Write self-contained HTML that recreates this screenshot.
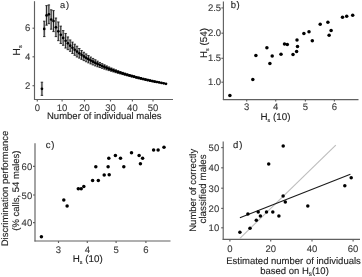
<!DOCTYPE html>
<html><head><meta charset="utf-8"><style>
html,body{margin:0;padding:0;background:#fff;}
svg{display:block;will-change:transform;filter:blur(0.3px);}
text{font-family:"Liberation Sans",sans-serif;text-rendering:geometricPrecision;}
</style></head><body>
<svg width="362" height="277" viewBox="0 0 362 277">
<rect width="362" height="277" fill="#fff"/>
<line x1="34.50" y1="1.20" x2="34.50" y2="100.00" stroke="#606060" stroke-width="1.15"/>
<line x1="34.00" y1="99.50" x2="173.00" y2="99.50" stroke="#606060" stroke-width="1.15"/>
<line x1="37.30" y1="99.50" x2="37.30" y2="101.50" stroke="#606060" stroke-width="1.15"/>
<text transform="translate(37.30,110.50) scale(1,1.0)" font-size="9.5" text-anchor="middle" fill="#3a3a3a" stroke="#3a3a3a" stroke-width="0.12">0</text>
<line x1="62.10" y1="99.50" x2="62.10" y2="101.50" stroke="#606060" stroke-width="1.15"/>
<text transform="translate(62.10,110.50) scale(1,1.0)" font-size="9.5" text-anchor="middle" fill="#3a3a3a" stroke="#3a3a3a" stroke-width="0.12">10</text>
<line x1="84.50" y1="99.50" x2="84.50" y2="101.50" stroke="#606060" stroke-width="1.15"/>
<text transform="translate(84.50,110.50) scale(1,1.0)" font-size="9.5" text-anchor="middle" fill="#3a3a3a" stroke="#3a3a3a" stroke-width="0.12">20</text>
<line x1="110.50" y1="99.50" x2="110.50" y2="101.50" stroke="#606060" stroke-width="1.15"/>
<text transform="translate(110.50,110.50) scale(1,1.0)" font-size="9.5" text-anchor="middle" fill="#3a3a3a" stroke="#3a3a3a" stroke-width="0.12">30</text>
<line x1="132.40" y1="99.50" x2="132.40" y2="101.50" stroke="#606060" stroke-width="1.15"/>
<text transform="translate(132.40,110.50) scale(1,1.0)" font-size="9.5" text-anchor="middle" fill="#3a3a3a" stroke="#3a3a3a" stroke-width="0.12">40</text>
<line x1="153.00" y1="99.50" x2="153.00" y2="101.50" stroke="#606060" stroke-width="1.15"/>
<text transform="translate(153.00,110.50) scale(1,1.0)" font-size="9.5" text-anchor="middle" fill="#3a3a3a" stroke="#3a3a3a" stroke-width="0.12">50</text>
<line x1="32.50" y1="28.20" x2="34.50" y2="28.20" stroke="#606060" stroke-width="1.15"/>
<text transform="translate(30.20,31.30) scale(1,1.0)" font-size="9.5" text-anchor="end" fill="#3a3a3a" stroke="#3a3a3a" stroke-width="0.12">6</text>
<line x1="32.50" y1="56.80" x2="34.50" y2="56.80" stroke="#606060" stroke-width="1.15"/>
<text transform="translate(30.20,59.90) scale(1,1.0)" font-size="9.5" text-anchor="end" fill="#3a3a3a" stroke="#3a3a3a" stroke-width="0.12">4</text>
<line x1="32.50" y1="85.70" x2="34.50" y2="85.70" stroke="#606060" stroke-width="1.15"/>
<text transform="translate(30.20,88.80) scale(1,1.0)" font-size="9.5" text-anchor="end" fill="#3a3a3a" stroke="#3a3a3a" stroke-width="0.12">2</text>
<text transform="translate(60.00,8.00) scale(1,1.0)" font-size="9.3" text-anchor="start" fill="#222222" stroke="#222222" stroke-width="0.12">a<tspan dx="0.8">)</tspan></text>
<text transform="translate(104.30,119.30) scale(1,1.001)" font-size="9.5" text-anchor="middle" fill="#222222" stroke="#222222" stroke-width="0.12">Number of individual males</text>
<text transform="translate(20.20,50.30) rotate(-90) scale(1,1.001)" font-size="10.2" text-anchor="middle" fill="#222222" stroke="#222222" stroke-width="0.12">H<tspan font-size="5.6" dy="1.6">s</tspan><tspan dy="-1.6"></tspan></text>
<rect x="40.73" y="82.20" width="2.40" height="13.20" fill="#c8c8c8"/>
<rect x="43.04" y="21.20" width="2.40" height="15.40" fill="#c8c8c8"/>
<rect x="45.36" y="5.60" width="2.40" height="19.60" fill="#c8c8c8"/>
<rect x="47.67" y="4.90" width="2.40" height="18.80" fill="#c8c8c8"/>
<rect x="49.98" y="9.80" width="2.40" height="19.40" fill="#c8c8c8"/>
<rect x="52.30" y="10.60" width="2.40" height="21.00" fill="#c8c8c8"/>
<rect x="54.72" y="18.01" width="2.40" height="18.61" fill="#c8c8c8"/>
<rect x="57.14" y="21.96" width="2.40" height="18.70" fill="#c8c8c8"/>
<rect x="59.56" y="26.12" width="2.40" height="17.40" fill="#c8c8c8"/>
<rect x="61.98" y="30.58" width="2.40" height="14.73" fill="#c8c8c8"/>
<rect x="64.40" y="33.46" width="2.40" height="14.60" fill="#c8c8c8"/>
<rect x="66.68" y="36.95" width="2.40" height="12.71" fill="#c8c8c8"/>
<rect x="68.96" y="39.94" width="2.40" height="11.40" fill="#c8c8c8"/>
<rect x="71.25" y="42.08" width="2.40" height="11.40" fill="#c8c8c8"/>
<rect x="73.53" y="44.20" width="2.40" height="11.12" fill="#c8c8c8"/>
<rect x="75.81" y="46.19" width="2.40" height="10.82" fill="#c8c8c8"/>
<rect x="78.09" y="48.51" width="2.40" height="9.61" fill="#c8c8c8"/>
<rect x="80.37" y="50.50" width="2.40" height="8.85" fill="#c8c8c8"/>
<rect x="82.65" y="52.26" width="2.40" height="8.35" fill="#c8c8c8"/>
<rect x="84.94" y="53.93" width="2.40" height="7.85" fill="#c8c8c8"/>
<rect x="87.22" y="55.53" width="2.40" height="7.35" fill="#c8c8c8"/>
<rect x="89.50" y="57.04" width="2.40" height="6.89" fill="#c8c8c8"/>
<rect x="91.78" y="58.43" width="2.40" height="6.53" fill="#c8c8c8"/>
<rect x="94.06" y="59.76" width="2.40" height="6.16" fill="#c8c8c8"/>
<rect x="96.35" y="61.11" width="2.40" height="5.66" fill="#c8c8c8"/>
<rect x="98.63" y="62.47" width="2.40" height="5.05" fill="#c8c8c8"/>
<rect x="100.91" y="63.66" width="2.40" height="4.68" fill="#c8c8c8"/>
<rect x="103.19" y="64.79" width="2.40" height="4.34" fill="#c8c8c8"/>
<rect x="105.47" y="65.88" width="2.40" height="4.00" fill="#c8c8c8"/>
<rect x="107.75" y="66.94" width="2.40" height="3.66" fill="#c8c8c8"/>
<rect x="110.04" y="67.97" width="2.40" height="3.31" fill="#c8c8c8"/>
<rect x="112.32" y="68.92" width="2.40" height="3.06" fill="#c8c8c8"/>
<rect x="114.60" y="69.81" width="2.40" height="2.85" fill="#c8c8c8"/>
<rect x="116.88" y="70.68" width="2.40" height="2.64" fill="#c8c8c8"/>
<rect x="119.16" y="71.53" width="2.40" height="2.43" fill="#c8c8c8"/>
<rect x="121.45" y="72.35" width="2.40" height="2.22" fill="#c8c8c8"/>
<rect x="123.73" y="73.15" width="2.40" height="2.01" fill="#c8c8c8"/>
<rect x="126.01" y="73.85" width="2.40" height="1.95" fill="#c8c8c8"/>
<rect x="128.29" y="74.52" width="2.40" height="1.89" fill="#c8c8c8"/>
<rect x="130.57" y="75.18" width="2.40" height="1.83" fill="#c8c8c8"/>
<rect x="132.85" y="75.82" width="2.40" height="1.78" fill="#c8c8c8"/>
<rect x="135.14" y="76.44" width="2.40" height="1.72" fill="#c8c8c8"/>
<rect x="137.42" y="77.05" width="2.40" height="1.67" fill="#c8c8c8"/>
<rect x="139.70" y="77.64" width="2.40" height="1.61" fill="#c8c8c8"/>
<rect x="141.98" y="78.22" width="2.40" height="1.56" fill="#c8c8c8"/>
<rect x="144.26" y="78.78" width="2.40" height="1.50" fill="#c8c8c8"/>
<rect x="146.55" y="79.32" width="2.40" height="1.45" fill="#c8c8c8"/>
<rect x="148.83" y="79.86" width="2.40" height="1.39" fill="#c8c8c8"/>
<rect x="151.11" y="80.38" width="2.40" height="1.33" fill="#c8c8c8"/>
<rect x="153.39" y="80.89" width="2.40" height="1.28" fill="#c8c8c8"/>
<rect x="155.67" y="81.39" width="2.40" height="1.22" fill="#c8c8c8"/>
<line x1="41.93" y1="82.20" x2="41.93" y2="95.40" stroke="#111" stroke-width="0.9"/>
<line x1="40.73" y1="82.20" x2="43.13" y2="82.20" stroke="#111" stroke-width="0.8"/>
<line x1="40.73" y1="95.40" x2="43.13" y2="95.40" stroke="#111" stroke-width="0.8"/>
<circle cx="41.93" cy="88.80" r="1.35" fill="#000"/>
<line x1="44.24" y1="21.20" x2="44.24" y2="36.60" stroke="#111" stroke-width="0.9"/>
<line x1="43.04" y1="21.20" x2="45.44" y2="21.20" stroke="#111" stroke-width="0.8"/>
<line x1="43.04" y1="36.60" x2="45.44" y2="36.60" stroke="#111" stroke-width="0.8"/>
<circle cx="44.24" cy="28.90" r="1.35" fill="#000"/>
<line x1="46.56" y1="5.60" x2="46.56" y2="25.20" stroke="#111" stroke-width="0.9"/>
<line x1="45.36" y1="5.60" x2="47.76" y2="5.60" stroke="#111" stroke-width="0.8"/>
<line x1="45.36" y1="25.20" x2="47.76" y2="25.20" stroke="#111" stroke-width="0.8"/>
<circle cx="46.56" cy="15.40" r="1.35" fill="#000"/>
<line x1="48.87" y1="4.90" x2="48.87" y2="23.70" stroke="#111" stroke-width="0.9"/>
<line x1="47.67" y1="4.90" x2="50.07" y2="4.90" stroke="#111" stroke-width="0.8"/>
<line x1="47.67" y1="23.70" x2="50.07" y2="23.70" stroke="#111" stroke-width="0.8"/>
<circle cx="48.87" cy="14.30" r="1.35" fill="#000"/>
<line x1="51.18" y1="9.80" x2="51.18" y2="29.20" stroke="#111" stroke-width="0.9"/>
<line x1="49.98" y1="9.80" x2="52.38" y2="9.80" stroke="#111" stroke-width="0.8"/>
<line x1="49.98" y1="29.20" x2="52.38" y2="29.20" stroke="#111" stroke-width="0.8"/>
<circle cx="51.18" cy="19.50" r="1.35" fill="#000"/>
<line x1="53.50" y1="10.60" x2="53.50" y2="31.60" stroke="#111" stroke-width="0.9"/>
<line x1="52.30" y1="10.60" x2="54.70" y2="10.60" stroke="#111" stroke-width="0.8"/>
<line x1="52.30" y1="31.60" x2="54.70" y2="31.60" stroke="#111" stroke-width="0.8"/>
<circle cx="53.50" cy="21.10" r="1.35" fill="#000"/>
<line x1="55.92" y1="18.01" x2="55.92" y2="36.62" stroke="#111" stroke-width="0.9"/>
<line x1="54.72" y1="18.01" x2="57.12" y2="18.01" stroke="#111" stroke-width="0.8"/>
<line x1="54.72" y1="36.62" x2="57.12" y2="36.62" stroke="#111" stroke-width="0.8"/>
<circle cx="55.92" cy="27.31" r="1.35" fill="#000"/>
<line x1="58.34" y1="21.96" x2="58.34" y2="40.66" stroke="#111" stroke-width="0.9"/>
<line x1="57.14" y1="21.96" x2="59.54" y2="21.96" stroke="#111" stroke-width="0.8"/>
<line x1="57.14" y1="40.66" x2="59.54" y2="40.66" stroke="#111" stroke-width="0.8"/>
<circle cx="58.34" cy="31.31" r="1.35" fill="#000"/>
<line x1="60.76" y1="26.12" x2="60.76" y2="43.52" stroke="#111" stroke-width="0.9"/>
<line x1="59.56" y1="26.12" x2="61.96" y2="26.12" stroke="#111" stroke-width="0.8"/>
<line x1="59.56" y1="43.52" x2="61.96" y2="43.52" stroke="#111" stroke-width="0.8"/>
<circle cx="60.76" cy="34.82" r="1.35" fill="#000"/>
<line x1="63.18" y1="30.58" x2="63.18" y2="45.31" stroke="#111" stroke-width="0.9"/>
<line x1="61.98" y1="30.58" x2="64.38" y2="30.58" stroke="#111" stroke-width="0.8"/>
<line x1="61.98" y1="45.31" x2="64.38" y2="45.31" stroke="#111" stroke-width="0.8"/>
<circle cx="63.18" cy="37.95" r="1.35" fill="#000"/>
<line x1="65.60" y1="33.46" x2="65.60" y2="48.06" stroke="#111" stroke-width="0.9"/>
<line x1="64.40" y1="33.46" x2="66.80" y2="33.46" stroke="#111" stroke-width="0.8"/>
<line x1="64.40" y1="48.06" x2="66.80" y2="48.06" stroke="#111" stroke-width="0.8"/>
<circle cx="65.60" cy="40.76" r="1.35" fill="#000"/>
<line x1="67.88" y1="36.95" x2="67.88" y2="49.66" stroke="#111" stroke-width="0.9"/>
<line x1="66.68" y1="36.95" x2="69.08" y2="36.95" stroke="#111" stroke-width="0.8"/>
<line x1="66.68" y1="49.66" x2="69.08" y2="49.66" stroke="#111" stroke-width="0.8"/>
<circle cx="67.88" cy="43.31" r="1.35" fill="#000"/>
<line x1="70.16" y1="39.94" x2="70.16" y2="51.34" stroke="#111" stroke-width="0.9"/>
<line x1="68.96" y1="39.94" x2="71.36" y2="39.94" stroke="#111" stroke-width="0.8"/>
<line x1="68.96" y1="51.34" x2="71.36" y2="51.34" stroke="#111" stroke-width="0.8"/>
<circle cx="70.16" cy="45.64" r="1.35" fill="#000"/>
<line x1="72.45" y1="42.08" x2="72.45" y2="53.48" stroke="#111" stroke-width="0.9"/>
<line x1="71.25" y1="42.08" x2="73.65" y2="42.08" stroke="#111" stroke-width="0.8"/>
<line x1="71.25" y1="53.48" x2="73.65" y2="53.48" stroke="#111" stroke-width="0.8"/>
<circle cx="72.45" cy="47.78" r="1.35" fill="#000"/>
<line x1="74.73" y1="44.20" x2="74.73" y2="55.32" stroke="#111" stroke-width="0.9"/>
<line x1="73.53" y1="44.20" x2="75.93" y2="44.20" stroke="#111" stroke-width="0.8"/>
<line x1="73.53" y1="55.32" x2="75.93" y2="55.32" stroke="#111" stroke-width="0.8"/>
<circle cx="74.73" cy="49.76" r="1.35" fill="#000"/>
<line x1="77.01" y1="46.19" x2="77.01" y2="57.01" stroke="#111" stroke-width="0.9"/>
<line x1="75.81" y1="46.19" x2="78.21" y2="46.19" stroke="#111" stroke-width="0.8"/>
<line x1="75.81" y1="57.01" x2="78.21" y2="57.01" stroke="#111" stroke-width="0.8"/>
<circle cx="77.01" cy="51.60" r="1.35" fill="#000"/>
<line x1="79.29" y1="48.51" x2="79.29" y2="58.12" stroke="#111" stroke-width="0.9"/>
<line x1="78.09" y1="48.51" x2="80.49" y2="48.51" stroke="#111" stroke-width="0.8"/>
<line x1="78.09" y1="58.12" x2="80.49" y2="58.12" stroke="#111" stroke-width="0.8"/>
<circle cx="79.29" cy="53.32" r="1.35" fill="#000"/>
<line x1="81.57" y1="50.50" x2="81.57" y2="59.35" stroke="#111" stroke-width="0.9"/>
<line x1="80.37" y1="50.50" x2="82.77" y2="50.50" stroke="#111" stroke-width="0.8"/>
<line x1="80.37" y1="59.35" x2="82.77" y2="59.35" stroke="#111" stroke-width="0.8"/>
<circle cx="81.57" cy="54.92" r="1.35" fill="#000"/>
<line x1="83.85" y1="52.26" x2="83.85" y2="60.61" stroke="#111" stroke-width="0.9"/>
<line x1="82.65" y1="52.26" x2="85.05" y2="52.26" stroke="#111" stroke-width="0.8"/>
<line x1="82.65" y1="60.61" x2="85.05" y2="60.61" stroke="#111" stroke-width="0.8"/>
<circle cx="83.85" cy="56.44" r="1.35" fill="#000"/>
<line x1="86.14" y1="53.93" x2="86.14" y2="61.78" stroke="#111" stroke-width="0.9"/>
<line x1="84.94" y1="53.93" x2="87.34" y2="53.93" stroke="#111" stroke-width="0.8"/>
<line x1="84.94" y1="61.78" x2="87.34" y2="61.78" stroke="#111" stroke-width="0.8"/>
<circle cx="86.14" cy="57.86" r="1.35" fill="#000"/>
<line x1="88.42" y1="55.53" x2="88.42" y2="62.88" stroke="#111" stroke-width="0.9"/>
<line x1="87.22" y1="55.53" x2="89.62" y2="55.53" stroke="#111" stroke-width="0.8"/>
<line x1="87.22" y1="62.88" x2="89.62" y2="62.88" stroke="#111" stroke-width="0.8"/>
<circle cx="88.42" cy="59.21" r="1.35" fill="#000"/>
<line x1="90.70" y1="57.04" x2="90.70" y2="63.93" stroke="#111" stroke-width="0.9"/>
<line x1="89.50" y1="57.04" x2="91.90" y2="57.04" stroke="#111" stroke-width="0.8"/>
<line x1="89.50" y1="63.93" x2="91.90" y2="63.93" stroke="#111" stroke-width="0.8"/>
<circle cx="90.70" cy="60.48" r="1.35" fill="#000"/>
<line x1="92.98" y1="58.43" x2="92.98" y2="64.96" stroke="#111" stroke-width="0.9"/>
<line x1="91.78" y1="58.43" x2="94.18" y2="58.43" stroke="#111" stroke-width="0.8"/>
<line x1="91.78" y1="64.96" x2="94.18" y2="64.96" stroke="#111" stroke-width="0.8"/>
<circle cx="92.98" cy="61.69" r="1.35" fill="#000"/>
<line x1="95.26" y1="59.76" x2="95.26" y2="65.93" stroke="#111" stroke-width="0.9"/>
<line x1="94.06" y1="59.76" x2="96.46" y2="59.76" stroke="#111" stroke-width="0.8"/>
<line x1="94.06" y1="65.93" x2="96.46" y2="65.93" stroke="#111" stroke-width="0.8"/>
<circle cx="95.26" cy="62.84" r="1.35" fill="#000"/>
<line x1="97.55" y1="61.11" x2="97.55" y2="66.77" stroke="#111" stroke-width="0.9"/>
<line x1="96.35" y1="61.11" x2="98.75" y2="61.11" stroke="#111" stroke-width="0.8"/>
<line x1="96.35" y1="66.77" x2="98.75" y2="66.77" stroke="#111" stroke-width="0.8"/>
<circle cx="97.55" cy="63.94" r="1.35" fill="#000"/>
<line x1="99.83" y1="62.47" x2="99.83" y2="67.52" stroke="#111" stroke-width="0.9"/>
<line x1="98.63" y1="62.47" x2="101.03" y2="62.47" stroke="#111" stroke-width="0.8"/>
<line x1="98.63" y1="67.52" x2="101.03" y2="67.52" stroke="#111" stroke-width="0.8"/>
<circle cx="99.83" cy="64.99" r="1.35" fill="#000"/>
<line x1="102.11" y1="63.66" x2="102.11" y2="68.34" stroke="#111" stroke-width="0.9"/>
<line x1="100.91" y1="63.66" x2="103.31" y2="63.66" stroke="#111" stroke-width="0.8"/>
<line x1="100.91" y1="68.34" x2="103.31" y2="68.34" stroke="#111" stroke-width="0.8"/>
<circle cx="102.11" cy="66.00" r="1.35" fill="#000"/>
<line x1="104.39" y1="64.79" x2="104.39" y2="69.13" stroke="#111" stroke-width="0.9"/>
<line x1="103.19" y1="64.79" x2="105.59" y2="64.79" stroke="#111" stroke-width="0.8"/>
<line x1="103.19" y1="69.13" x2="105.59" y2="69.13" stroke="#111" stroke-width="0.8"/>
<circle cx="104.39" cy="66.96" r="1.35" fill="#000"/>
<line x1="106.67" y1="65.88" x2="106.67" y2="69.88" stroke="#111" stroke-width="0.9"/>
<line x1="105.47" y1="65.88" x2="107.87" y2="65.88" stroke="#111" stroke-width="0.8"/>
<line x1="105.47" y1="69.88" x2="107.87" y2="69.88" stroke="#111" stroke-width="0.8"/>
<circle cx="106.67" cy="67.88" r="1.35" fill="#000"/>
<line x1="108.95" y1="66.94" x2="108.95" y2="70.60" stroke="#111" stroke-width="0.9"/>
<line x1="107.75" y1="66.94" x2="110.15" y2="66.94" stroke="#111" stroke-width="0.8"/>
<line x1="107.75" y1="70.60" x2="110.15" y2="70.60" stroke="#111" stroke-width="0.8"/>
<circle cx="108.95" cy="68.77" r="1.35" fill="#000"/>
<line x1="111.24" y1="67.97" x2="111.24" y2="71.28" stroke="#111" stroke-width="0.9"/>
<line x1="110.04" y1="67.97" x2="112.44" y2="67.97" stroke="#111" stroke-width="0.8"/>
<line x1="110.04" y1="71.28" x2="112.44" y2="71.28" stroke="#111" stroke-width="0.8"/>
<circle cx="111.24" cy="69.62" r="1.35" fill="#000"/>
<line x1="113.52" y1="68.92" x2="113.52" y2="71.97" stroke="#111" stroke-width="0.9"/>
<line x1="112.32" y1="68.92" x2="114.72" y2="68.92" stroke="#111" stroke-width="0.8"/>
<line x1="112.32" y1="71.97" x2="114.72" y2="71.97" stroke="#111" stroke-width="0.8"/>
<circle cx="113.52" cy="70.45" r="1.35" fill="#000"/>
<line x1="115.80" y1="69.81" x2="115.80" y2="72.66" stroke="#111" stroke-width="0.9"/>
<line x1="114.60" y1="69.81" x2="117.00" y2="69.81" stroke="#111" stroke-width="0.8"/>
<line x1="114.60" y1="72.66" x2="117.00" y2="72.66" stroke="#111" stroke-width="0.8"/>
<circle cx="115.80" cy="71.24" r="1.35" fill="#000"/>
<line x1="118.08" y1="70.68" x2="118.08" y2="73.32" stroke="#111" stroke-width="0.9"/>
<line x1="116.88" y1="70.68" x2="119.28" y2="70.68" stroke="#111" stroke-width="0.8"/>
<line x1="116.88" y1="73.32" x2="119.28" y2="73.32" stroke="#111" stroke-width="0.8"/>
<circle cx="118.08" cy="72.00" r="1.35" fill="#000"/>
<line x1="120.36" y1="71.53" x2="120.36" y2="73.96" stroke="#111" stroke-width="0.9"/>
<line x1="119.16" y1="71.53" x2="121.56" y2="71.53" stroke="#111" stroke-width="0.8"/>
<line x1="119.16" y1="73.96" x2="121.56" y2="73.96" stroke="#111" stroke-width="0.8"/>
<circle cx="120.36" cy="72.74" r="1.35" fill="#000"/>
<line x1="122.65" y1="72.35" x2="122.65" y2="74.57" stroke="#111" stroke-width="0.9"/>
<line x1="121.45" y1="72.35" x2="123.85" y2="72.35" stroke="#111" stroke-width="0.8"/>
<line x1="121.45" y1="74.57" x2="123.85" y2="74.57" stroke="#111" stroke-width="0.8"/>
<circle cx="122.65" cy="73.46" r="1.35" fill="#000"/>
<line x1="124.93" y1="73.15" x2="124.93" y2="75.15" stroke="#111" stroke-width="0.9"/>
<line x1="123.73" y1="73.15" x2="126.13" y2="73.15" stroke="#111" stroke-width="0.8"/>
<line x1="123.73" y1="75.15" x2="126.13" y2="75.15" stroke="#111" stroke-width="0.8"/>
<circle cx="124.93" cy="74.15" r="1.35" fill="#000"/>
<line x1="127.21" y1="73.85" x2="127.21" y2="75.79" stroke="#111" stroke-width="0.9"/>
<line x1="126.01" y1="73.85" x2="128.41" y2="73.85" stroke="#111" stroke-width="0.8"/>
<line x1="126.01" y1="75.79" x2="128.41" y2="75.79" stroke="#111" stroke-width="0.8"/>
<circle cx="127.21" cy="74.82" r="1.35" fill="#000"/>
<line x1="129.49" y1="74.52" x2="129.49" y2="76.41" stroke="#111" stroke-width="0.9"/>
<line x1="128.29" y1="74.52" x2="130.69" y2="74.52" stroke="#111" stroke-width="0.8"/>
<line x1="128.29" y1="76.41" x2="130.69" y2="76.41" stroke="#111" stroke-width="0.8"/>
<circle cx="129.49" cy="75.47" r="1.35" fill="#000"/>
<line x1="131.77" y1="75.18" x2="131.77" y2="77.02" stroke="#111" stroke-width="0.9"/>
<line x1="130.57" y1="75.18" x2="132.97" y2="75.18" stroke="#111" stroke-width="0.8"/>
<line x1="130.57" y1="77.02" x2="132.97" y2="77.02" stroke="#111" stroke-width="0.8"/>
<circle cx="131.77" cy="76.10" r="1.35" fill="#000"/>
<line x1="134.05" y1="75.82" x2="134.05" y2="77.60" stroke="#111" stroke-width="0.9"/>
<line x1="132.85" y1="75.82" x2="135.25" y2="75.82" stroke="#111" stroke-width="0.8"/>
<line x1="132.85" y1="77.60" x2="135.25" y2="77.60" stroke="#111" stroke-width="0.8"/>
<circle cx="134.05" cy="76.71" r="1.35" fill="#000"/>
<line x1="136.34" y1="76.44" x2="136.34" y2="78.17" stroke="#111" stroke-width="0.9"/>
<line x1="135.14" y1="76.44" x2="137.54" y2="76.44" stroke="#111" stroke-width="0.8"/>
<line x1="135.14" y1="78.17" x2="137.54" y2="78.17" stroke="#111" stroke-width="0.8"/>
<circle cx="136.34" cy="77.31" r="1.35" fill="#000"/>
<line x1="138.62" y1="77.05" x2="138.62" y2="78.72" stroke="#111" stroke-width="0.9"/>
<line x1="137.42" y1="77.05" x2="139.82" y2="77.05" stroke="#111" stroke-width="0.8"/>
<line x1="137.42" y1="78.72" x2="139.82" y2="78.72" stroke="#111" stroke-width="0.8"/>
<circle cx="138.62" cy="77.88" r="1.35" fill="#000"/>
<line x1="140.90" y1="77.64" x2="140.90" y2="79.25" stroke="#111" stroke-width="0.9"/>
<line x1="139.70" y1="77.64" x2="142.10" y2="77.64" stroke="#111" stroke-width="0.8"/>
<line x1="139.70" y1="79.25" x2="142.10" y2="79.25" stroke="#111" stroke-width="0.8"/>
<circle cx="140.90" cy="78.45" r="1.35" fill="#000"/>
<line x1="143.18" y1="78.22" x2="143.18" y2="79.77" stroke="#111" stroke-width="0.9"/>
<line x1="141.98" y1="78.22" x2="144.38" y2="78.22" stroke="#111" stroke-width="0.8"/>
<line x1="141.98" y1="79.77" x2="144.38" y2="79.77" stroke="#111" stroke-width="0.8"/>
<circle cx="143.18" cy="78.99" r="1.35" fill="#000"/>
<line x1="145.46" y1="78.78" x2="145.46" y2="80.28" stroke="#111" stroke-width="0.9"/>
<line x1="144.26" y1="78.78" x2="146.66" y2="78.78" stroke="#111" stroke-width="0.8"/>
<line x1="144.26" y1="80.28" x2="146.66" y2="80.28" stroke="#111" stroke-width="0.8"/>
<circle cx="145.46" cy="79.53" r="1.35" fill="#000"/>
<line x1="147.75" y1="79.32" x2="147.75" y2="80.77" stroke="#111" stroke-width="0.9"/>
<line x1="146.55" y1="79.32" x2="148.95" y2="79.32" stroke="#111" stroke-width="0.8"/>
<line x1="146.55" y1="80.77" x2="148.95" y2="80.77" stroke="#111" stroke-width="0.8"/>
<circle cx="147.75" cy="80.05" r="1.35" fill="#000"/>
<line x1="150.03" y1="79.86" x2="150.03" y2="81.25" stroke="#111" stroke-width="0.9"/>
<line x1="148.83" y1="79.86" x2="151.23" y2="79.86" stroke="#111" stroke-width="0.8"/>
<line x1="148.83" y1="81.25" x2="151.23" y2="81.25" stroke="#111" stroke-width="0.8"/>
<circle cx="150.03" cy="80.55" r="1.35" fill="#000"/>
<line x1="152.31" y1="80.38" x2="152.31" y2="81.71" stroke="#111" stroke-width="0.9"/>
<line x1="151.11" y1="80.38" x2="153.51" y2="80.38" stroke="#111" stroke-width="0.8"/>
<line x1="151.11" y1="81.71" x2="153.51" y2="81.71" stroke="#111" stroke-width="0.8"/>
<circle cx="152.31" cy="81.05" r="1.35" fill="#000"/>
<line x1="154.59" y1="80.89" x2="154.59" y2="82.17" stroke="#111" stroke-width="0.9"/>
<line x1="153.39" y1="80.89" x2="155.79" y2="80.89" stroke="#111" stroke-width="0.8"/>
<line x1="153.39" y1="82.17" x2="155.79" y2="82.17" stroke="#111" stroke-width="0.8"/>
<circle cx="154.59" cy="81.53" r="1.35" fill="#000"/>
<line x1="156.87" y1="81.39" x2="156.87" y2="82.61" stroke="#111" stroke-width="0.9"/>
<line x1="155.67" y1="81.39" x2="158.07" y2="81.39" stroke="#111" stroke-width="0.8"/>
<line x1="155.67" y1="82.61" x2="158.07" y2="82.61" stroke="#111" stroke-width="0.8"/>
<circle cx="156.87" cy="82.00" r="1.35" fill="#000"/>
<circle cx="159.15" cy="82.46" r="1.35" fill="#000"/>
<circle cx="161.44" cy="82.91" r="1.35" fill="#000"/>
<circle cx="163.72" cy="83.35" r="1.35" fill="#000"/>
<circle cx="166.00" cy="83.78" r="1.35" fill="#000"/>
<polyline fill="none" stroke="#000" stroke-width="1.3" points="83.85,56.44 86.14,57.86 88.42,59.21 90.70,60.48 92.98,61.69 95.26,62.84 97.55,63.94 99.83,64.99 102.11,66.00 104.39,66.96 106.67,67.88 108.95,68.77 111.24,69.62 113.52,70.45 115.80,71.24 118.08,72.00 120.36,72.74 122.65,73.46 124.93,74.15 127.21,74.82 129.49,75.47 131.77,76.10 134.05,76.71 136.34,77.31 138.62,77.88 140.90,78.45 143.18,78.99 145.46,79.53 147.75,80.05 150.03,80.55 152.31,81.05 154.59,81.53 156.87,82.00 159.15,82.46 161.44,82.91 163.72,83.35 166.00,83.78"/>
<line x1="223.40" y1="1.50" x2="223.40" y2="100.10" stroke="#606060" stroke-width="1.15"/>
<line x1="222.90" y1="99.60" x2="358.50" y2="99.60" stroke="#606060" stroke-width="1.15"/>
<line x1="246.70" y1="99.60" x2="246.70" y2="101.60" stroke="#606060" stroke-width="1.15"/>
<text transform="translate(246.70,109.60) scale(1,1.0)" font-size="9.5" text-anchor="middle" fill="#3a3a3a" stroke="#3a3a3a" stroke-width="0.12">3</text>
<line x1="275.70" y1="99.60" x2="275.70" y2="101.60" stroke="#606060" stroke-width="1.15"/>
<text transform="translate(275.70,109.60) scale(1,1.0)" font-size="9.5" text-anchor="middle" fill="#3a3a3a" stroke="#3a3a3a" stroke-width="0.12">4</text>
<line x1="305.40" y1="99.60" x2="305.40" y2="101.60" stroke="#606060" stroke-width="1.15"/>
<text transform="translate(305.40,109.60) scale(1,1.0)" font-size="9.5" text-anchor="middle" fill="#3a3a3a" stroke="#3a3a3a" stroke-width="0.12">5</text>
<line x1="334.40" y1="99.60" x2="334.40" y2="101.60" stroke="#606060" stroke-width="1.15"/>
<text transform="translate(334.40,109.60) scale(1,1.0)" font-size="9.5" text-anchor="middle" fill="#3a3a3a" stroke="#3a3a3a" stroke-width="0.12">6</text>
<line x1="221.40" y1="7.90" x2="223.40" y2="7.90" stroke="#606060" stroke-width="1.15"/>
<text transform="translate(221.10,10.50) scale(1,1.0)" font-size="9.5" text-anchor="end" fill="#3a3a3a" stroke="#3a3a3a" stroke-width="0.12">2.5</text>
<line x1="221.40" y1="33.20" x2="223.40" y2="33.20" stroke="#606060" stroke-width="1.15"/>
<text transform="translate(221.10,35.80) scale(1,1.0)" font-size="9.5" text-anchor="end" fill="#3a3a3a" stroke="#3a3a3a" stroke-width="0.12">2.0</text>
<line x1="221.40" y1="58.30" x2="223.40" y2="58.30" stroke="#606060" stroke-width="1.15"/>
<text transform="translate(221.10,60.90) scale(1,1.0)" font-size="9.5" text-anchor="end" fill="#3a3a3a" stroke="#3a3a3a" stroke-width="0.12">1.5</text>
<line x1="221.40" y1="82.20" x2="223.40" y2="82.20" stroke="#606060" stroke-width="1.15"/>
<text transform="translate(221.10,84.80) scale(1,1.0)" font-size="9.5" text-anchor="end" fill="#3a3a3a" stroke="#3a3a3a" stroke-width="0.12">1.0</text>
<text transform="translate(230.70,7.60) scale(1,1.0)" font-size="9.5" text-anchor="start" fill="#222222" stroke="#222222" stroke-width="0.12">b<tspan dx="0.5">)</tspan></text>
<text transform="translate(275.50,120.00) scale(1,1.001)" font-size="9.8" text-anchor="middle" fill="#222222" stroke="#222222" stroke-width="0.12">H<tspan font-size="5.4" dy="1.6">s</tspan><tspan dy="-1.6"> (10)</tspan></text>
<text transform="translate(206.90,43.00) rotate(-90) scale(1,1.001)" font-size="9.8" text-anchor="middle" fill="#222222" stroke="#222222" stroke-width="0.12">H<tspan font-size="5.4" dy="1.6">s</tspan><tspan dy="-1.6"> (54)</tspan></text>
<circle cx="229.90" cy="95.50" r="1.75" fill="#000"/>
<circle cx="252.80" cy="79.40" r="1.75" fill="#000"/>
<circle cx="255.90" cy="55.60" r="1.75" fill="#000"/>
<circle cx="266.90" cy="47.80" r="1.75" fill="#000"/>
<circle cx="269.90" cy="63.50" r="1.75" fill="#000"/>
<circle cx="272.20" cy="56.10" r="1.75" fill="#000"/>
<circle cx="281.00" cy="54.20" r="1.75" fill="#000"/>
<circle cx="284.50" cy="44.00" r="1.75" fill="#000"/>
<circle cx="287.30" cy="44.50" r="1.75" fill="#000"/>
<circle cx="293.00" cy="54.60" r="1.75" fill="#000"/>
<circle cx="296.60" cy="51.60" r="1.75" fill="#000"/>
<circle cx="297.50" cy="46.60" r="1.75" fill="#000"/>
<circle cx="297.00" cy="40.10" r="1.75" fill="#000"/>
<circle cx="303.90" cy="33.60" r="1.75" fill="#000"/>
<circle cx="309.00" cy="31.80" r="1.75" fill="#000"/>
<circle cx="312.30" cy="40.70" r="1.75" fill="#000"/>
<circle cx="320.20" cy="24.30" r="1.75" fill="#000"/>
<circle cx="327.90" cy="22.20" r="1.75" fill="#000"/>
<circle cx="331.10" cy="30.60" r="1.75" fill="#000"/>
<circle cx="329.10" cy="35.20" r="1.75" fill="#000"/>
<circle cx="342.50" cy="17.20" r="1.75" fill="#000"/>
<circle cx="346.70" cy="16.20" r="1.75" fill="#000"/>
<circle cx="352.70" cy="15.30" r="1.75" fill="#000"/>
<line x1="35.00" y1="143.20" x2="35.00" y2="241.50" stroke="#606060" stroke-width="1.15"/>
<line x1="34.50" y1="241.00" x2="170.50" y2="241.00" stroke="#606060" stroke-width="1.15"/>
<line x1="58.50" y1="241.00" x2="58.50" y2="243.00" stroke="#606060" stroke-width="1.15"/>
<text transform="translate(58.50,252.60) scale(1,1.0)" font-size="9.5" text-anchor="middle" fill="#3a3a3a" stroke="#3a3a3a" stroke-width="0.12">3</text>
<line x1="87.30" y1="241.00" x2="87.30" y2="243.00" stroke="#606060" stroke-width="1.15"/>
<text transform="translate(87.30,252.60) scale(1,1.0)" font-size="9.5" text-anchor="middle" fill="#3a3a3a" stroke="#3a3a3a" stroke-width="0.12">4</text>
<line x1="116.10" y1="241.00" x2="116.10" y2="243.00" stroke="#606060" stroke-width="1.15"/>
<text transform="translate(116.10,252.60) scale(1,1.0)" font-size="9.5" text-anchor="middle" fill="#3a3a3a" stroke="#3a3a3a" stroke-width="0.12">5</text>
<line x1="145.90" y1="241.00" x2="145.90" y2="243.00" stroke="#606060" stroke-width="1.15"/>
<text transform="translate(145.90,252.60) scale(1,1.0)" font-size="9.5" text-anchor="middle" fill="#3a3a3a" stroke="#3a3a3a" stroke-width="0.12">6</text>
<line x1="33.00" y1="166.40" x2="35.00" y2="166.40" stroke="#606060" stroke-width="1.15"/>
<text transform="translate(32.20,169.90) scale(1,1.0)" font-size="9.5" text-anchor="end" fill="#3a3a3a" stroke="#3a3a3a" stroke-width="0.12">60</text>
<line x1="33.00" y1="195.00" x2="35.00" y2="195.00" stroke="#606060" stroke-width="1.15"/>
<text transform="translate(32.20,198.50) scale(1,1.0)" font-size="9.5" text-anchor="end" fill="#3a3a3a" stroke="#3a3a3a" stroke-width="0.12">50</text>
<line x1="33.00" y1="222.60" x2="35.00" y2="222.60" stroke="#606060" stroke-width="1.15"/>
<text transform="translate(32.20,226.10) scale(1,1.0)" font-size="9.5" text-anchor="end" fill="#3a3a3a" stroke="#3a3a3a" stroke-width="0.12">40</text>
<text transform="translate(45.70,148.00) scale(1,1.0)" font-size="9.5" text-anchor="start" fill="#222222" stroke="#222222" stroke-width="0.12">c<tspan dx="0.9">)</tspan></text>
<text transform="translate(87.70,262.40) scale(1,1.001)" font-size="9.8" text-anchor="middle" fill="#222222" stroke="#222222" stroke-width="0.12">H<tspan font-size="5.4" dy="1.6">s</tspan><tspan dy="-1.6"> (10)</tspan></text>
<text transform="translate(7.80,188.50) rotate(-90) scale(1,1.001)" font-size="9.5" text-anchor="middle" fill="#222222" stroke="#222222" stroke-width="0.12">Discrimination performance</text>
<text transform="translate(18.90,190.60) rotate(-90) scale(1,1.001)" font-size="9.5" text-anchor="middle" fill="#222222" stroke="#222222" stroke-width="0.12">(% calls, 54 males)</text>
<circle cx="41.40" cy="236.70" r="1.75" fill="#000"/>
<circle cx="63.80" cy="200.10" r="1.75" fill="#000"/>
<circle cx="67.10" cy="205.90" r="1.75" fill="#000"/>
<circle cx="78.30" cy="188.80" r="1.75" fill="#000"/>
<circle cx="81.20" cy="188.80" r="1.75" fill="#000"/>
<circle cx="83.80" cy="186.40" r="1.75" fill="#000"/>
<circle cx="92.60" cy="180.60" r="1.75" fill="#000"/>
<circle cx="98.30" cy="180.60" r="1.75" fill="#000"/>
<circle cx="95.80" cy="166.80" r="1.75" fill="#000"/>
<circle cx="104.20" cy="175.00" r="1.75" fill="#000"/>
<circle cx="109.20" cy="174.80" r="1.75" fill="#000"/>
<circle cx="108.10" cy="166.70" r="1.75" fill="#000"/>
<circle cx="108.80" cy="158.30" r="1.75" fill="#000"/>
<circle cx="115.40" cy="155.40" r="1.75" fill="#000"/>
<circle cx="120.50" cy="158.30" r="1.75" fill="#000"/>
<circle cx="123.80" cy="166.70" r="1.75" fill="#000"/>
<circle cx="131.50" cy="152.70" r="1.75" fill="#000"/>
<circle cx="139.10" cy="155.40" r="1.75" fill="#000"/>
<circle cx="142.60" cy="158.30" r="1.75" fill="#000"/>
<circle cx="140.40" cy="163.80" r="1.75" fill="#000"/>
<circle cx="153.60" cy="149.90" r="1.75" fill="#000"/>
<circle cx="158.10" cy="149.90" r="1.75" fill="#000"/>
<circle cx="164.00" cy="147.20" r="1.75" fill="#000"/>
<line x1="223.20" y1="141.50" x2="223.20" y2="239.90" stroke="#606060" stroke-width="1.15"/>
<line x1="222.70" y1="239.40" x2="360.00" y2="239.40" stroke="#606060" stroke-width="1.15"/>
<line x1="229.90" y1="239.40" x2="229.90" y2="241.40" stroke="#606060" stroke-width="1.15"/>
<text transform="translate(229.90,252.40) scale(1,1.0)" font-size="9.5" text-anchor="middle" fill="#3a3a3a" stroke="#3a3a3a" stroke-width="0.12">0</text>
<line x1="270.70" y1="239.40" x2="270.70" y2="241.40" stroke="#606060" stroke-width="1.15"/>
<text transform="translate(270.70,252.40) scale(1,1.0)" font-size="9.5" text-anchor="middle" fill="#3a3a3a" stroke="#3a3a3a" stroke-width="0.12">20</text>
<line x1="312.00" y1="239.40" x2="312.00" y2="241.40" stroke="#606060" stroke-width="1.15"/>
<text transform="translate(312.00,252.40) scale(1,1.0)" font-size="9.5" text-anchor="middle" fill="#3a3a3a" stroke="#3a3a3a" stroke-width="0.12">40</text>
<line x1="353.10" y1="239.40" x2="353.10" y2="241.40" stroke="#606060" stroke-width="1.15"/>
<text transform="translate(353.10,252.40) scale(1,1.0)" font-size="9.5" text-anchor="middle" fill="#3a3a3a" stroke="#3a3a3a" stroke-width="0.12">60</text>
<line x1="221.20" y1="147.60" x2="223.20" y2="147.60" stroke="#606060" stroke-width="1.15"/>
<text transform="translate(219.20,151.10) scale(1,1.0)" font-size="9.5" text-anchor="end" fill="#3a3a3a" stroke="#3a3a3a" stroke-width="0.12">50</text>
<line x1="221.20" y1="167.80" x2="223.20" y2="167.80" stroke="#606060" stroke-width="1.15"/>
<text transform="translate(219.20,171.30) scale(1,1.0)" font-size="9.5" text-anchor="end" fill="#3a3a3a" stroke="#3a3a3a" stroke-width="0.12">40</text>
<line x1="221.20" y1="188.20" x2="223.20" y2="188.20" stroke="#606060" stroke-width="1.15"/>
<text transform="translate(219.20,191.70) scale(1,1.0)" font-size="9.5" text-anchor="end" fill="#3a3a3a" stroke="#3a3a3a" stroke-width="0.12">30</text>
<line x1="221.20" y1="208.40" x2="223.20" y2="208.40" stroke="#606060" stroke-width="1.15"/>
<text transform="translate(219.20,211.90) scale(1,1.0)" font-size="9.5" text-anchor="end" fill="#3a3a3a" stroke="#3a3a3a" stroke-width="0.12">20</text>
<line x1="221.20" y1="227.80" x2="223.20" y2="227.80" stroke="#606060" stroke-width="1.15"/>
<text transform="translate(219.20,231.30) scale(1,1.0)" font-size="9.5" text-anchor="end" fill="#3a3a3a" stroke="#3a3a3a" stroke-width="0.12">10</text>
<text transform="translate(233.00,148.10) scale(1,1.0)" font-size="9.5" text-anchor="start" fill="#222222" stroke="#222222" stroke-width="0.12">d<tspan dx="1.0">)</tspan></text>
<text transform="translate(293.50,263.90) scale(1,1.001)" font-size="9.5" text-anchor="middle" fill="#222222" stroke="#222222" stroke-width="0.12">Estimated number of individuals</text>
<text transform="translate(294.50,274.10) scale(1,1.001)" font-size="9.5" text-anchor="middle" fill="#222222" stroke="#222222" stroke-width="0.12">based on H<tspan font-size="6.3" dy="1.6">s</tspan><tspan dy="-1.6">(10)</tspan></text>
<text transform="translate(195.50,190.30) rotate(-90) scale(1,1.001)" font-size="9.5" text-anchor="middle" fill="#222222" stroke="#222222" stroke-width="0.12">Number of correctly</text>
<text transform="translate(206.00,188.90) rotate(-90) scale(1,1.001)" font-size="9.8" text-anchor="middle" fill="#222222" stroke="#222222" stroke-width="0.12">classified males</text>
<line x1="239.90" y1="238.40" x2="335.80" y2="145.20" stroke="#bdbdbd" stroke-width="1.1"/>
<line x1="239.90" y1="217.70" x2="350.40" y2="174.30" stroke="#1a1a1a" stroke-width="1.1"/>
<circle cx="239.90" cy="232.30" r="1.75" fill="#000"/>
<circle cx="250.00" cy="228.30" r="1.75" fill="#000"/>
<circle cx="247.90" cy="214.00" r="1.75" fill="#000"/>
<circle cx="256.30" cy="220.20" r="1.75" fill="#000"/>
<circle cx="260.40" cy="216.10" r="1.75" fill="#000"/>
<circle cx="258.20" cy="212.00" r="1.75" fill="#000"/>
<circle cx="266.50" cy="212.00" r="1.75" fill="#000"/>
<circle cx="272.80" cy="212.00" r="1.75" fill="#000"/>
<circle cx="278.90" cy="216.10" r="1.75" fill="#000"/>
<circle cx="283.10" cy="196.00" r="1.75" fill="#000"/>
<circle cx="285.30" cy="202.10" r="1.75" fill="#000"/>
<circle cx="283.20" cy="146.00" r="1.75" fill="#000"/>
<circle cx="268.70" cy="164.00" r="1.75" fill="#000"/>
<circle cx="307.80" cy="205.90" r="1.75" fill="#000"/>
<circle cx="344.80" cy="185.80" r="1.75" fill="#000"/>
<circle cx="351.20" cy="177.80" r="1.75" fill="#000"/>
</svg></body></html>
